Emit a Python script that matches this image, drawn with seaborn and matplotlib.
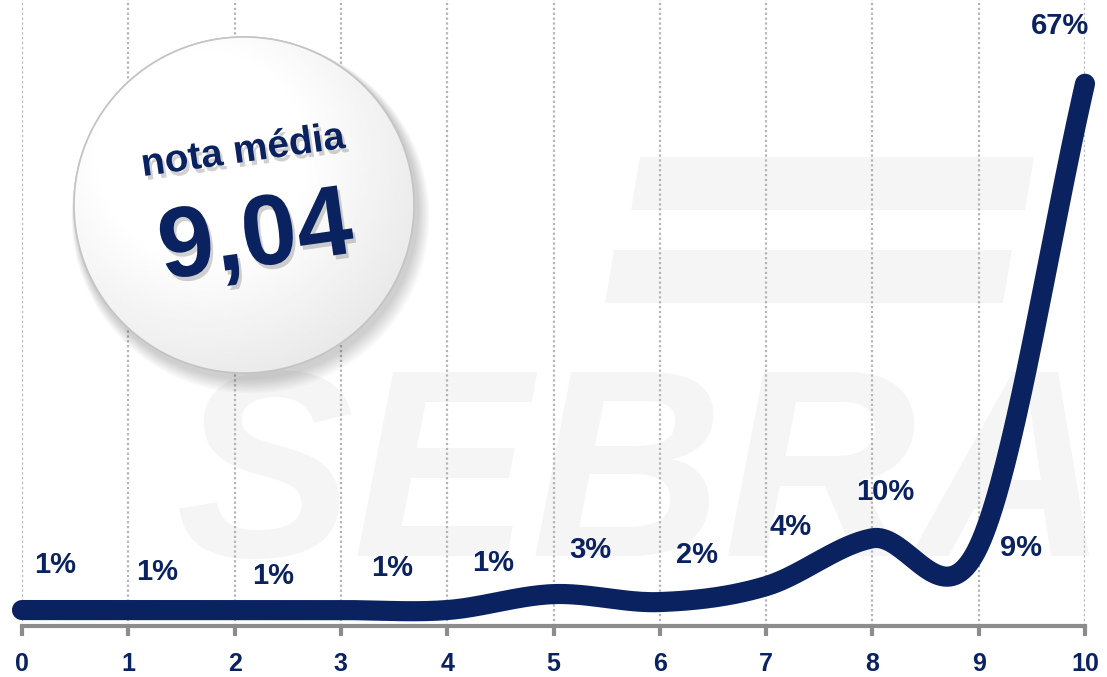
import numpy as np
import pandas as pd
import matplotlib.pyplot as plt
import matplotlib.patheffects as pe
import seaborn as sns
from matplotlib.patches import Ellipse, Polygon

# data
notas = list(range(11))
percentuais = [1, 1, 1, 1, 1, 3, 2, 4, 10, 9, 67]
rotulos = [f"{p}%" for p in percentuais]
nota_media = "9,04"

# label offsets in pixels (dx, dy), just for placement
offsets = [(33, 45), (29, 38), (39, 34), (51, 42), (46, 47), (37, 44),
           (37, 47), (24, 59), (13, 46), (42, -2), (-25, 58)]

navy = "#0b2260"


def catmull_rom(x, y, n=40):
    # smooth curve through the points (like Excel "smoothed line")
    x = np.asarray(x, float)
    y = np.asarray(y, float)
    m = np.gradient(y, x)
    m[1:-1] = (y[2:] - y[:-2]) / (x[2:] - x[:-2])
    xs, ys = [], []
    for i in range(len(x) - 1):
        t = np.linspace(0, 1, n, endpoint=False)
        h = x[i + 1] - x[i]
        h00 = 2 * t**3 - 3 * t**2 + 1
        h10 = t**3 - 2 * t**2 + t
        h01 = -2 * t**3 + 3 * t**2
        h11 = t**3 - t**2
        xs.append(x[i] + t * h)
        ys.append(h00 * y[i] + h10 * h * m[i] + h01 * y[i + 1] + h11 * h * m[i + 1])
    xs.append([x[-1]])
    ys.append([y[-1]])
    return np.concatenate(xs), np.concatenate(ys)


sns.set_theme(style="white")
plt.rcParams['font.family'] = ['Liberation Sans', 'DejaVu Sans']

W, H = 1107, 677
fig = plt.figure(figsize=(W / 100, H / 100), dpi=100)
fig.patch.set_facecolor("white")

# background watermark
bg = fig.add_axes([0, 0, 1, 1], zorder=0)
bg.set_xlim(0, W)
bg.set_ylim(H, 0)
bg.axis("off")
wm = "#f5f5f5"
bg.text(176, 556, "SEBRAE", fontsize=192, fontweight="bold", fontstyle="italic",
        color=wm, va="baseline", ha="left")
bg.add_patch(Polygon([(640, 157), (1034, 157), (1025, 210), (631, 210)], color=wm, lw=0))
bg.add_patch(Polygon([(614, 250), (1012, 250), (1003, 303), (605, 303)], color=wm, lw=0))

# main chart
ax = fig.add_axes([22 / W, (H - 626) / H, (1085 - 22) / W, 626 / H], zorder=1)
ax.patch.set_alpha(0)

df = pd.DataFrame({"nota": notas, "pct": percentuais})
xs, ys = catmull_rom(df["nota"], df["pct"])
sns.lineplot(x=xs, y=ys, ax=ax, color=navy, linewidth=14.5, estimator=None,
             sort=False, solid_capstyle="round", clip_on=False, zorder=3)

for x, v, lab, (dx, dy) in zip(notas, percentuais, rotulos, offsets):
    ax.annotate(lab, (x, v), xytext=(dx, dy), textcoords="offset pixels",
                ha="center", va="center", fontsize=21, fontweight="bold",
                color=navy, annotation_clip=False, zorder=4)

ax.set_xlim(0, 10)
ax.set_ylim(-1, 77.5)
ax.set_xticks(notas)
ax.set_xticklabels([str(n) for n in notas], fontsize=18, fontweight="bold", color=navy)
ax.set_yticks([])
ax.tick_params(axis="x", direction="out", length=7, width=3, color="#8c8c8c", pad=12, bottom=True)
for x in notas:
    ax.axvline(x, color="#b4b4b4", lw=1.6, ls=(0, (1, 1.2)), zorder=1)
for s in ["top", "left", "right"]:
    ax.spines[s].set_visible(False)
ax.spines["bottom"].set_color("#8c8c8c")
ax.spines["bottom"].set_linewidth(3)

# badge with average grade
fg = fig.add_axes([0, 0, 1, 1], zorder=2)
fg.set_xlim(0, W)
fg.set_ylim(H, 0)
fg.axis("off")
cx, cy, rw, rh = 244, 205, 340, 336
for k in range(8):
    fg.add_patch(Ellipse((cx + 3 + k * 0.5, cy + 5 + k * 0.9), rw + 4 + 2 * k, rh + 4 + 2 * k,
                         color="black", alpha=0.022, lw=0))
disc = Ellipse((cx, cy), rw, rh, facecolor="white", edgecolor="#c8c8c8", lw=1.2, zorder=2)
fg.add_patch(disc)
gx, gy = np.meshgrid(np.linspace(-1, 1, 200), np.linspace(-1, 1, 200))
grad = 1 - 0.11 * np.clip(np.hypot(gx + 0.25, gy + 0.3) - 0.6, 0, 1.2)
img = fg.imshow(grad, cmap="gray", vmin=0, vmax=1,
                extent=(cx - rw / 2, cx + rw / 2, cy + rh / 2, cy - rh / 2),
                zorder=2.5, interpolation="bilinear", aspect="auto")
img.set_clip_path(disc)
fg.set_xlim(0, W)
fg.set_ylim(H, 0)
fg.add_patch(Ellipse((cx, cy), rw, rh, facecolor="none", edgecolor="#c4c4c4", lw=1.2, zorder=3))
shadow = [pe.withSimplePatchShadow(offset=(2, -3), shadow_rgbFace="black", alpha=0.18)]
fg.text(243, 152, "nota média", fontsize=28, fontweight="bold", color=navy,
        rotation=8, ha="center", va="center", rotation_mode="anchor", zorder=4,
        path_effects=shadow)
fg.text(256, 240, nota_media, fontsize=72, fontweight="bold", color=navy,
        rotation=8, ha="center", va="center", rotation_mode="anchor", zorder=4,
        path_effects=shadow)

fig.savefig("out.png", dpi=100)
